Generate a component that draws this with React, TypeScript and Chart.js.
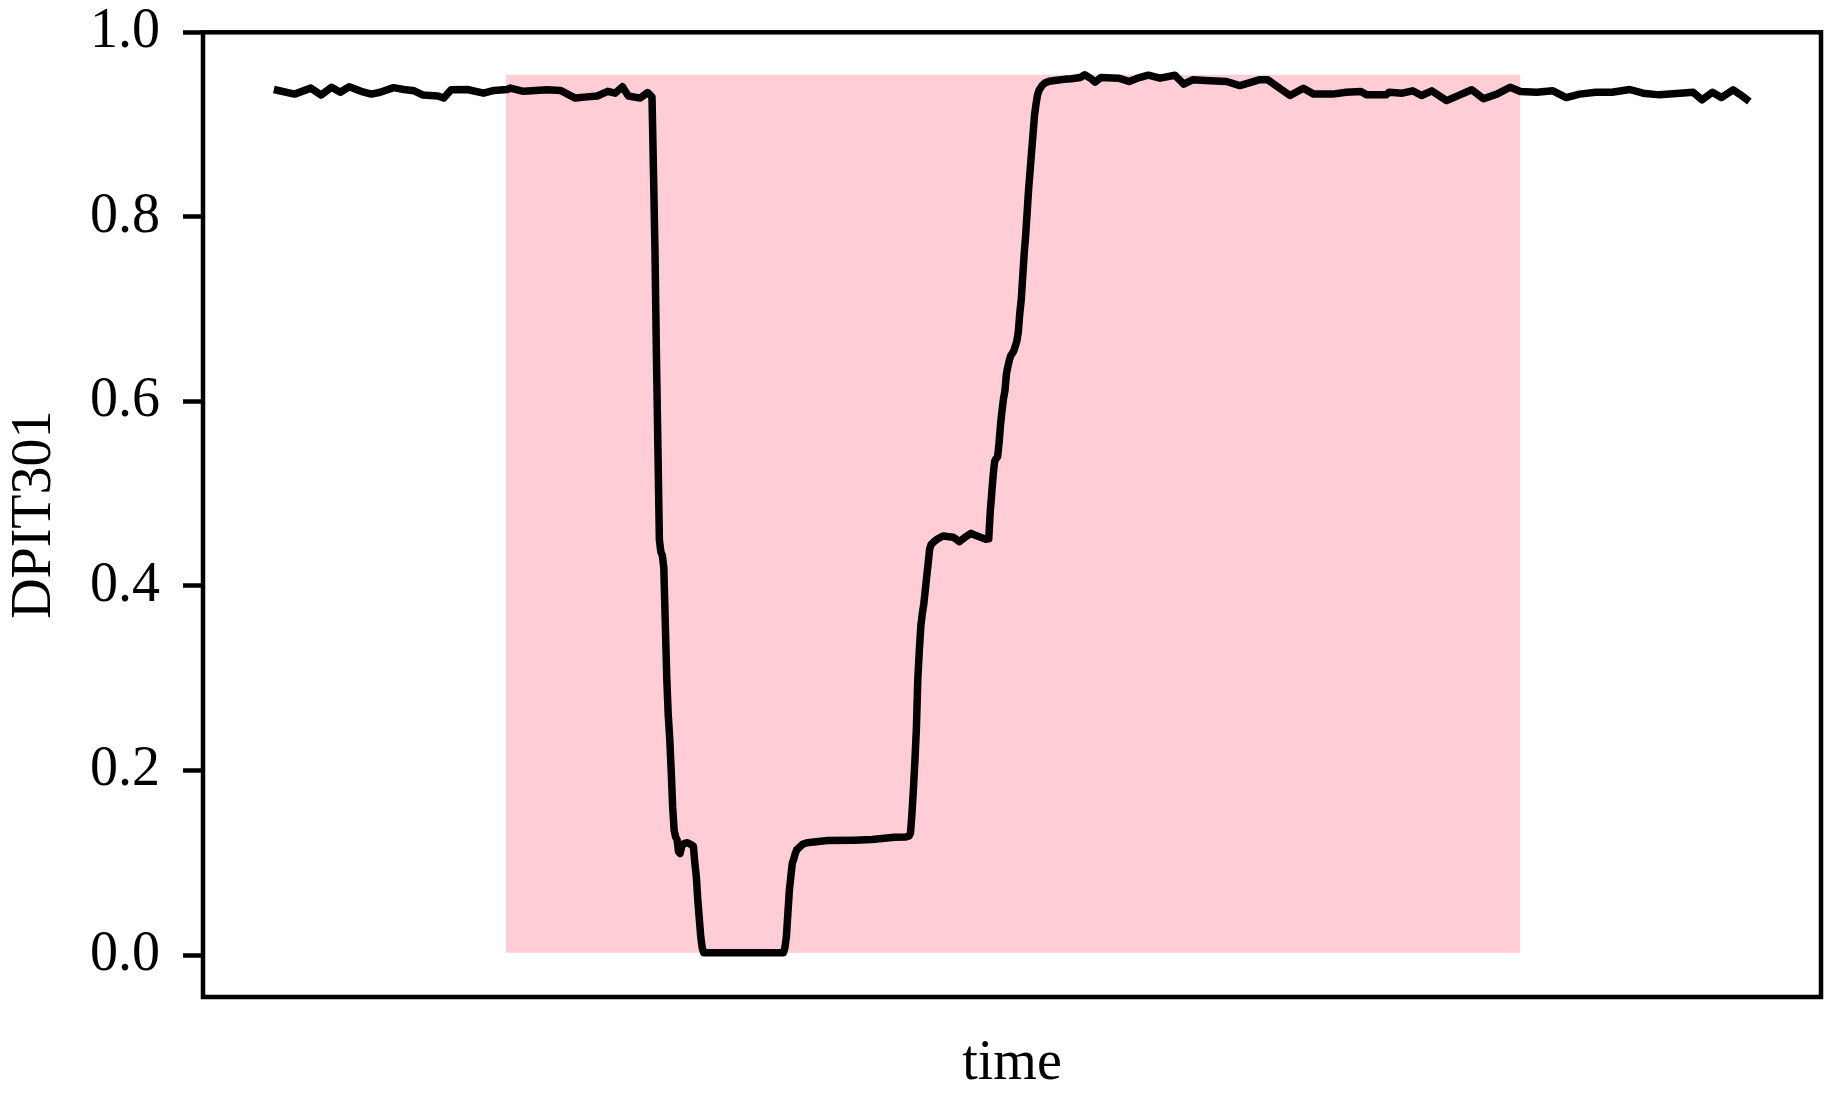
import React, { useEffect, useRef } from "react";
import { Chart, registerables } from "chart.js";

Chart.register(...registerables);

// time index of each reading
const timeIdx = [
  0, 14, 25, 32, 39, 45, 51, 59, 66, 72, 81, 88, 95, 101, 111, 115, 120, 131, 142, 149,
  158, 160, 169, 185, 194, 204, 212, 219, 226, 231, 236, 240, 248, 253, 256,
  257, 258, 259, 260, 261, 262, 263, 264, 265, 266, 267, 268, 269, 270, 271, 272, 273, 274, 275,
  276, 277, 278, 280, 282, 284, 285, 286, 287, 288, 289, 290, 291,
  345, 346, 347, 348, 349, 350, 351, 352, 353, 354, 356, 358, 361, 375, 393, 405, 420, 428, 430,
  431, 432, 433, 434, 435, 436, 437, 438, 439, 440, 441, 442, 443, 444, 445, 447, 449,
  453, 456, 460, 462, 464, 468, 472, 474, 478, 482, 484,
  485, 486, 487, 488, 489, 490, 491, 492, 493, 494, 495, 496, 497, 498, 499, 500, 501, 502, 503,
  504, 505, 506, 507, 508, 509, 510, 511, 512, 513, 514, 515, 516, 517, 518, 520, 522, 525, 530,
  535, 540, 546, 549, 553, 556, 560, 572, 579, 586, 592, 600, 610, 616, 622, 634, 645, 654, 667,
  673, 681, 688, 697, 704, 717, 726, 736, 740, 753, 755, 764, 771, 777, 784, 794, 803, 811, 819,
  828, 837, 844, 855, 866, 875, 884, 895, 906, 918, 927, 938, 952, 961, 967, 974, 980, 988, 993, 999,
];

// DPIT301 (normalised) readings
const dpit301 = [
  0.938, 0.933, 0.9395, 0.932, 0.9405, 0.935, 0.941, 0.936, 0.933, 0.935, 0.94, 0.938, 0.9366, 0.932, 0.931, 0.9287, 0.9377, 0.938, 0.934, 0.937,
  0.938, 0.9395, 0.936, 0.9377, 0.937, 0.9287, 0.93, 0.931, 0.936, 0.934, 0.941, 0.931, 0.9287, 0.9347, 0.93,
  0.85, 0.765, 0.65, 0.55, 0.45, 0.437, 0.433, 0.42, 0.36, 0.3, 0.26, 0.235, 0.2, 0.16, 0.135, 0.128, 0.125, 0.112, 0.11,
  0.117, 0.12, 0.121, 0.1217, 0.12, 0.118, 0.1, 0.085, 0.06, 0.04, 0.02, 0.008, 0.0025,
  0.0025, 0.008, 0.02, 0.045, 0.07, 0.085, 0.0994, 0.104, 0.11, 0.114, 0.117, 0.12, 0.1217, 0.124, 0.1245, 0.1252, 0.1276, 0.128, 0.129,
  0.132, 0.153, 0.18, 0.21, 0.245, 0.3, 0.33, 0.356, 0.37, 0.38, 0.395, 0.41, 0.425, 0.44, 0.445, 0.448, 0.4506,
  0.4542, 0.4535, 0.4528, 0.4505, 0.448, 0.4528, 0.457, 0.4555, 0.453, 0.4506, 0.451,
  0.48, 0.5, 0.52, 0.535, 0.538, 0.54, 0.555, 0.575, 0.59, 0.603, 0.612, 0.63, 0.638, 0.645, 0.65, 0.652, 0.655, 0.66, 0.665,
  0.675, 0.695, 0.71, 0.735, 0.76, 0.78, 0.805, 0.83, 0.85, 0.87, 0.89, 0.91, 0.922, 0.932, 0.937, 0.942, 0.945, 0.947, 0.948,
  0.949, 0.9496, 0.951, 0.954, 0.95, 0.946, 0.951, 0.9503, 0.9467, 0.951, 0.9535, 0.9503, 0.9535, 0.9438, 0.9485, 0.9474, 0.9467, 0.9423, 0.9485,
  0.9485, 0.9394, 0.9315, 0.9394, 0.933, 0.933, 0.935, 0.9358, 0.9322, 0.9322, 0.935, 0.934, 0.9366, 0.9315, 0.9366, 0.926, 0.9322, 0.9377, 0.928,
  0.933, 0.9405, 0.9358, 0.935, 0.9366, 0.9293, 0.933, 0.935, 0.935, 0.938, 0.934, 0.9322, 0.934, 0.935, 0.9268, 0.935, 0.9293, 0.9377, 0.9322, 0.925,
];

// anomaly window (time index start / end)
const anomalyRange = [157, 844];

const yTickValues = [0, 0.2, 0.4, 0.6, 0.8, 1.0];
const yLabel = "DPIT301";
const xLabel = "time";

const FONT = "'Liberation Serif', 'Times New Roman', serif";

export default function App() {
  const ref = useRef<HTMLCanvasElement>(null);

  useEffect(() => {
    const canvas = ref.current!;
    const top = Math.max(...dpit301);
    const bot = Math.min(...dpit301);

    const framePlugin = {
      id: "frame",
      afterDatasetsDraw(chart: any) {
        const { ctx, chartArea: a } = chart;
        ctx.save();
        ctx.strokeStyle = "#000";
        ctx.lineWidth = 4.5;
        ctx.strokeRect(a.left, a.top, a.right - a.left, a.bottom - a.top);
        ctx.restore();
      },
    };

    const chart = new Chart(canvas, {
      type: "line",
      data: {
        datasets: [
          {
            label: yLabel,
            data: timeIdx.map((t, i) => ({ x: t, y: dpit301[i] })),
            borderColor: "#000",
            borderWidth: 7.5,
            pointRadius: 0,
            tension: 0,
            fill: false,
            borderJoinStyle: "round",
            borderCapStyle: "butt",
          },
          {
            label: "anomaly",
            data: anomalyRange.map((t) => ({ x: t, y: top })),
            borderWidth: 0,
            borderColor: "rgba(0,0,0,0)",
            pointRadius: 0,
            backgroundColor: "rgba(255,192,203,0.8)",
            fill: { value: bot },
          },
        ],
      } as any,
      options: {
        responsive: false,
        animation: false,
        devicePixelRatio: 1,
        layout: { padding: { top: 32.3, right: 22, left: 0, bottom: 0 } },
        elements: { line: { borderJoinStyle: "round" } },
        plugins: { legend: { display: false }, tooltip: { enabled: false } },
        scales: {
          x: {
            type: "linear",
            min: -48,
            max: 1047.5,
            grid: { display: false },
            border: { display: false },
            ticks: { display: false },
            title: {
              display: true,
              text: xLabel,
              color: "#000",
              font: { family: FONT, size: 56 },
              padding: { top: 0, bottom: 5.6 },
            },
            afterFit(s: any) {
              s.height = 106;
              s.paddingLeft = 0;
              s.paddingRight = 0;
            },
          },
          y: {
            type: "linear",
            min: -0.0455,
            max: 1.0,
            afterBuildTicks(s: any) {
              s.ticks = yTickValues.map((v) => ({ value: v }));
            },
            ticks: {
              callback: (v: any) => Number(v).toFixed(1),
              color: "#000",
              font: { family: FONT, size: 56, lineHeight: 1 },
              padding: 23,
            },
            grid: {
              display: true,
              drawOnChartArea: false,
              drawTicks: true,
              tickLength: 20,
              tickWidth: 4.5,
              tickColor: "#000",
            },
            border: { display: false },
            title: {
              display: true,
              text: yLabel,
              color: "#000",
              font: { family: FONT, size: 56 },
              padding: { top: 2, bottom: 0 },
            },
            afterFit(s: any) {
              s.width = 203;
              s.paddingTop = 0;
              s.paddingBottom = 0;
            },
          },
        },
      } as any,
      plugins: [framePlugin],
    });

    return () => chart.destroy();
  }, []);

  return (
    <div style={{ position: "fixed", left: 0, top: 0, width: 1843, height: 1103, background: "#fff" }}>
      <canvas ref={ref} width={1843} height={1103} style={{ width: 1843, height: 1103, display: "block" }} />
    </div>
  );
}
